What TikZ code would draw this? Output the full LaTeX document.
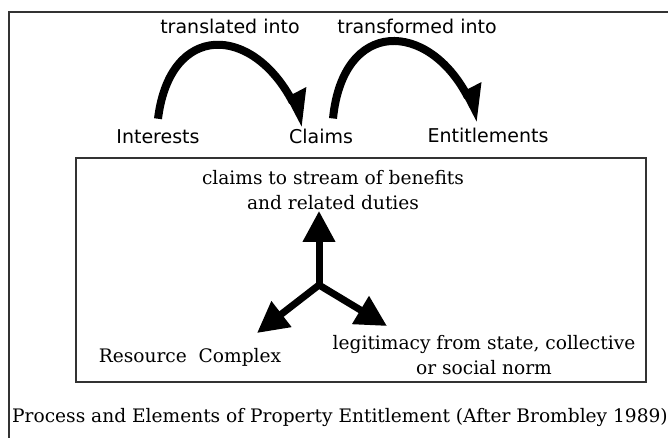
\documentclass[tikz,border=0pt]{standalone}
\usepackage{fontspec}
\setmainfont{DejaVu Serif}
\setsansfont{DejaVu Sans}
\usetikzlibrary{arrows.meta}

\begin{document}
\begin{tikzpicture}[x=1pt,y=-1pt,
	flow label/.style={font=\sffamily\fontsize{19}{22}\selectfont, inner sep=1pt},
	element/.style={font=\fontsize{18.6}{25}\selectfont, align=center, inner sep=1pt},
	bow/.style={line width=8pt, -{Triangle[left, length=28pt, width=36pt]}},
	spoke/.style={line width=7pt, -{Triangle[length=31pt, width=31pt]}},
	frame/.style={draw=black!80, line width=1.6pt}
	]
	\useasboundingbox (0,0) rectangle (668,437);

	\draw[frame] (9,445) -- (9,12) -- (680,12);
	\draw[frame] (76,158) rectangle (646,382);

	\node[flow label] (transl) at (230,26) {translated into};
	\node[flow label] (transf) at (417,26) {transformed into};
	\node[flow label] (int) at (158,137) {Interests};
	\node[flow label] (cla) at (321,136) {Claims};
	\node[flow label] (ent) at (488,135) {Entitlements};

	\draw[bow] ([yshift=10pt]int.north) .. controls (170,22) and (252,24) .. ([xshift=-16pt,yshift=2pt]cla.north);
	\draw[bow] ([xshift=12pt,yshift=9pt]cla.north) .. controls (343,18) and (428,20) .. ([xshift=-8pt,yshift=6pt]ent.north);

	\node[element] (stream) at (333,190) {claims to stream of benefits\\and related duties};
	\node[element] (res) at (190,357) {Resource\ \ Complex};
	\node[element] (legit) at (484,355) {legitimacy from state, collective\\or social norm};

	\coordinate (hub) at (319,285);
	\coordinate (restip) at (257,333);
	\coordinate (legtip) at (387,326);
	\draw[spoke] (hub) -- (hub |- stream.south);
	\draw[spoke] (hub) -- (restip);
	\draw[spoke] (hub) -- (legtip);

	\node[element, anchor=west] (caption) at (11,417)
		{Process and Elements of Property Entitlement (After Brombley 1989)};
\end{tikzpicture}
\end{document}
